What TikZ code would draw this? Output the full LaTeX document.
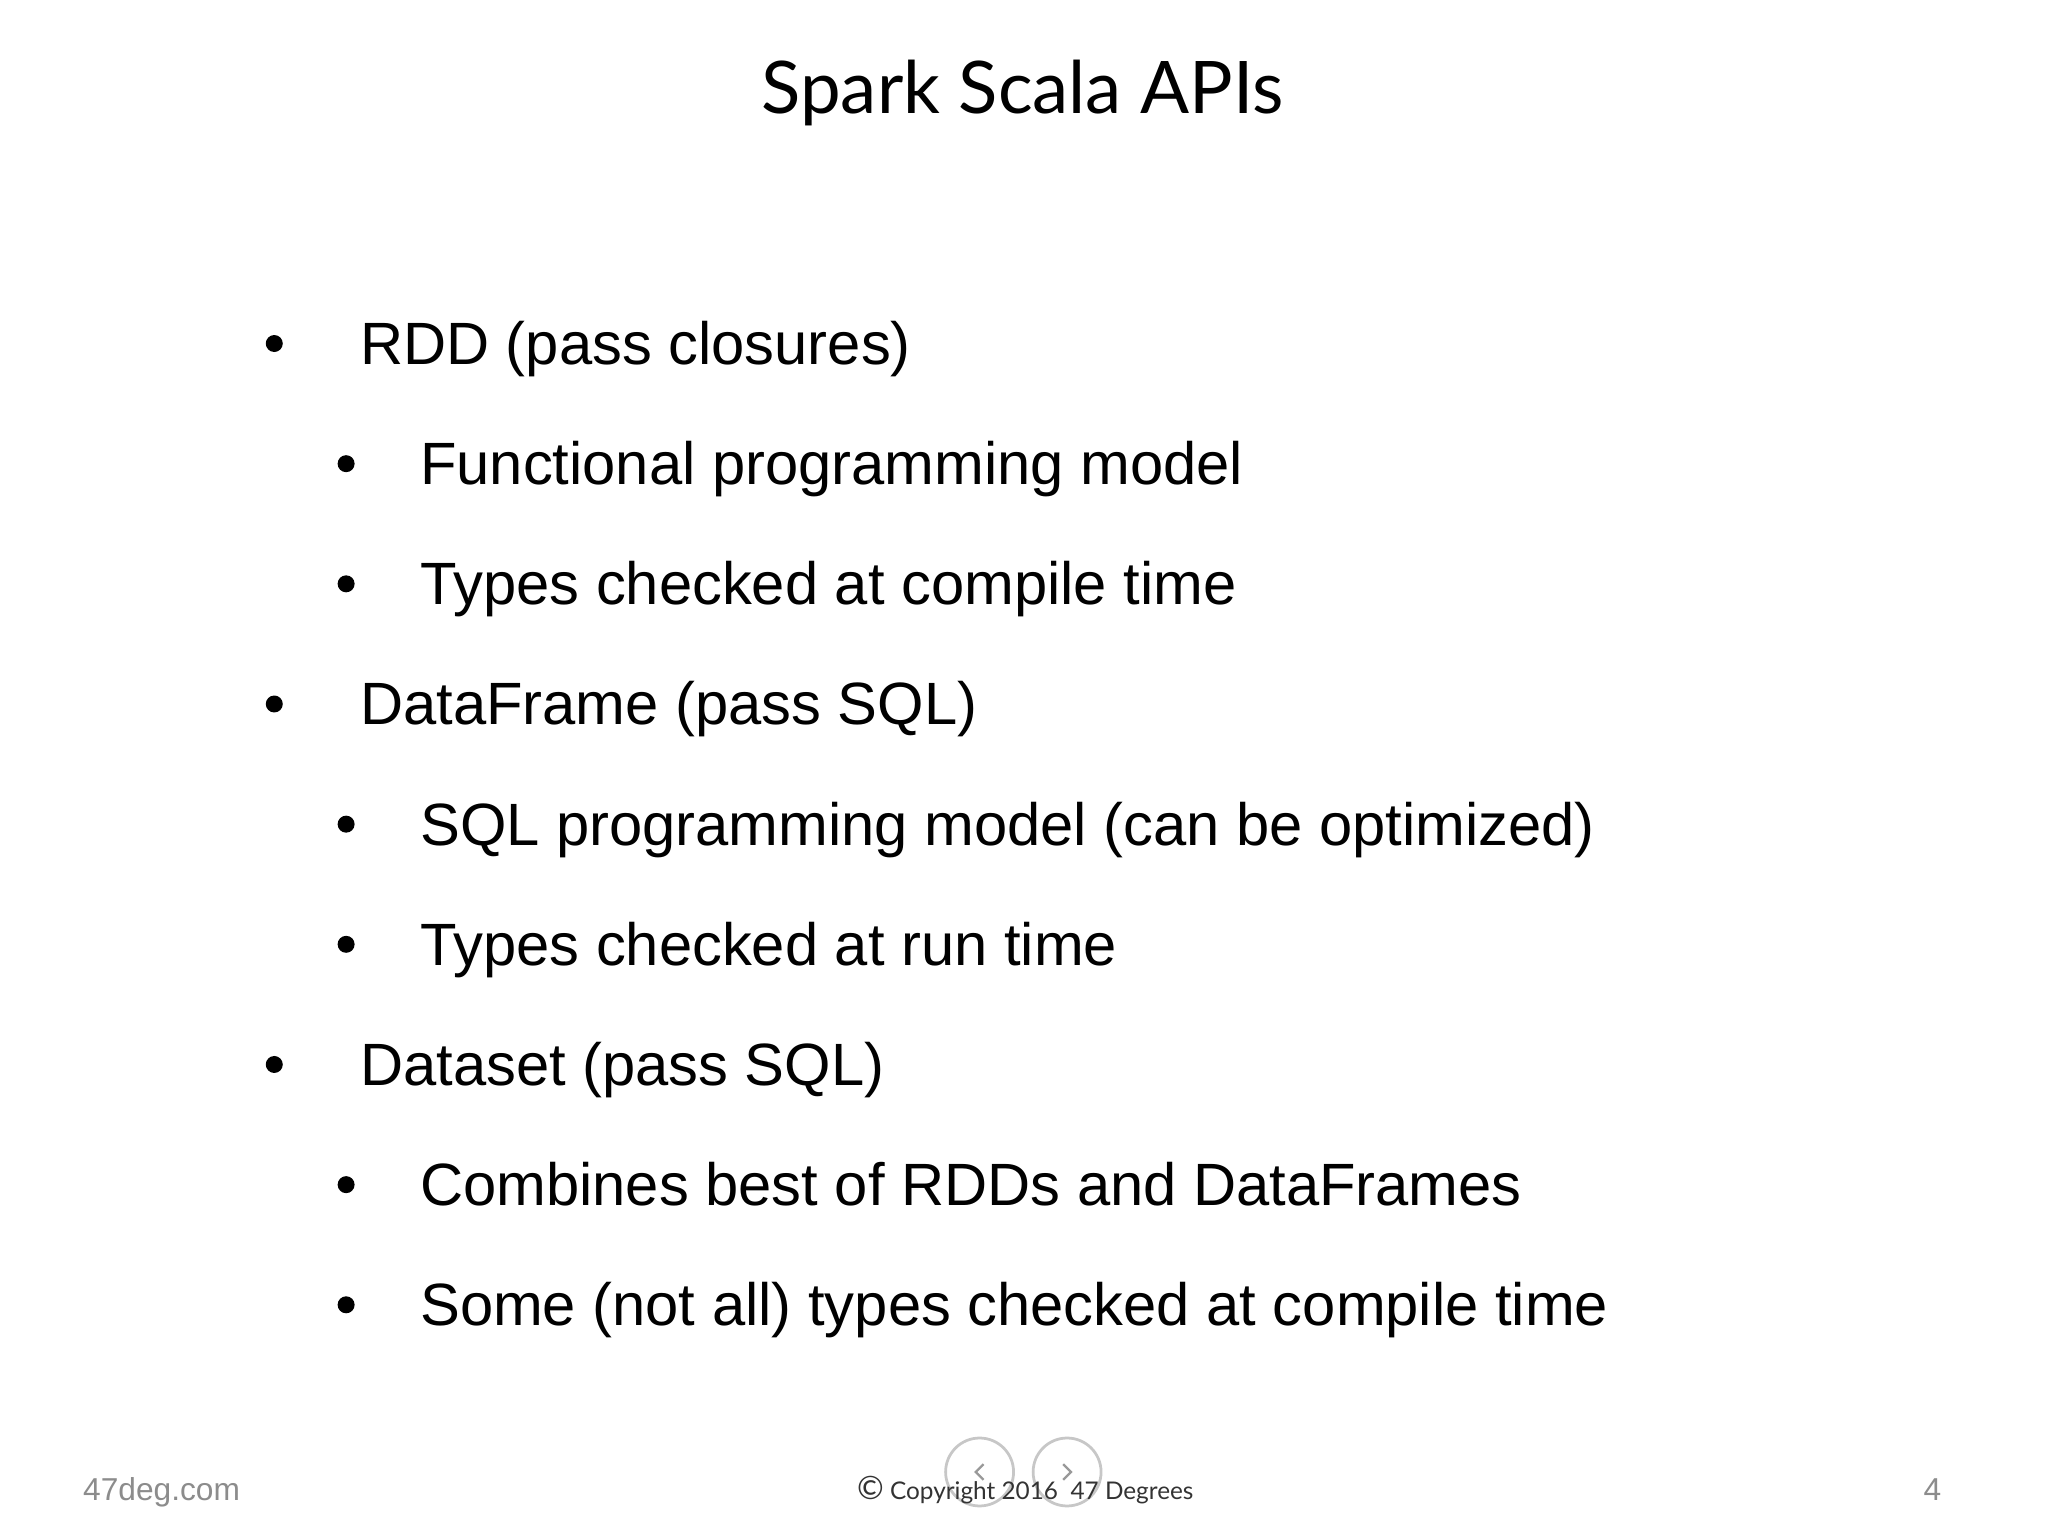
\documentclass[tikz,border=0pt]{standalone}
\usepackage{fontspec}
\setmainfont{Liberation Sans}
\newfontfamily\titlefont{Lato}
\begin{document}
\begin{tikzpicture}[x=0.01cm,y=-0.01cm,
  item/.style={anchor=base west,font=\fontsize{13}{15}\selectfont,inner sep=0pt},
  dot/.style={fill=black,circle,inner sep=0pt,minimum size=0.13cm},
  nav/.style={draw=black!22,line width=0.6pt,circle,minimum size=0.52cm,inner sep=0pt},
  chev/.style={draw=black!40,line width=0.5pt}]
\useasboundingbox (0,0) rectangle (1568,1176);
\node[anchor=base,inner sep=0pt,font=\titlefont\fontsize{15.8}{18}\selectfont] (title) at (783,87) {Spark Scala APIs};
\foreach \y/\lvl/\t [count=\i] in {
 279/1/RDD (pass closures),
 371/2/Functional programming model,
 463/2/Types checked at compile time,
 555/1/DataFrame (pass SQL),
 647/2/SQL programming model (can be optimized),
 739/2/Types checked at run time,
 831/1/Dataset (pass SQL),
 923/2/Combines best of RDDs and DataFrames,
 1015/2/Some (not all) types checked at compile time}{
 \ifnum\lvl=1
  \node[dot] (b\i) at (210,\y-16) {};
  \node[item] (t\i) at (275,\y) {\t};
 \else
  \node[dot] (b\i) at (265,\y-16) {};
  \node[item] (t\i) at (321,\y) {\t};
 \fi
}
\node[nav] (prev) at (750,1127) {};
\node[nav] (next) at (817,1127) {};
\draw[chev] ([shift={(3,-6)}]prev.center) -- ([shift={(-3,0)}]prev.center) -- ([shift={(3,6)}]prev.center);
\draw[chev] ([shift={(-3,-6)}]next.center) -- ([shift={(3,0)}]next.center) -- ([shift={(-3,6)}]next.center);
\node[anchor=base west,inner sep=0pt,text=black!45,font=\fontsize{6.9}{8}\selectfont] (web) at (63,1149) {47deg.com};
\node[anchor=base,inner sep=0pt,text=black!80,font=\titlefont\fontsize{5.3}{6}\selectfont] (copy) at (785,1148) {{\fontsize{7}{8}\selectfont\textcopyright}\ Copyright 2016\ \ 47 Degrees};
\node[anchor=base east,inner sep=0pt,text=black!45,font=\fontsize{6.9}{8}\selectfont] (num) at (1487,1149) {4};
\end{tikzpicture}
\end{document}
